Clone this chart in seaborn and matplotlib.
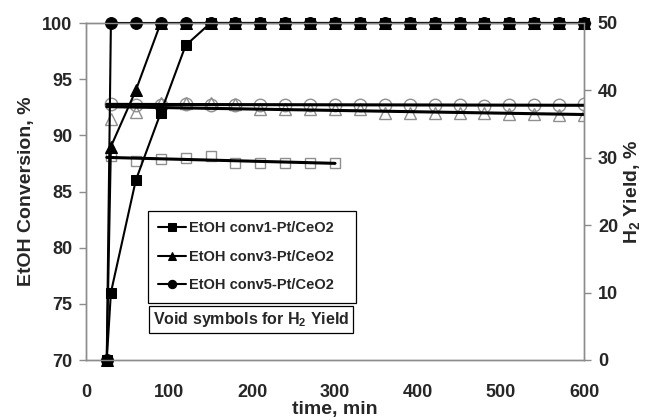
import numpy as np
import pandas as pd
import matplotlib
matplotlib.use("Agg")
import matplotlib.pyplot as plt
from matplotlib.ticker import MultipleLocator
import seaborn as sns

# Ethanol conversion (left axis, %) versus time on stream (min)
time_conv = [25, 30, 60, 90, 120, 150, 180, 210, 240, 270, 300,
             330, 360, 390, 420, 450, 480, 510, 540, 570, 600]
conv1 = [70, 76, 86, 92, 98, 100, 100, 100, 100, 100, 100,
         100, 100, 100, 100, 100, 100, 100, 100, 100, 100]
conv3 = [70, 89, 94, 100, 100, 100, 100, 100, 100, 100, 100,
         100, 100, 100, 100, 100, 100, 100, 100, 100, 100]
conv5 = [70, 100, 100, 100, 100, 100, 100, 100, 100, 100, 100,
         100, 100, 100, 100, 100, 100, 100, 100, 100, 100]

# H2 yield (right axis, %)
time_h2 = [30, 60, 90, 120, 150, 180, 210, 240, 270, 300,
           330, 360, 390, 420, 450, 480, 510, 540, 570, 600]
h2_yield1 = [30.2, 29.5, 29.8, 30.0, 30.2, 29.3, 29.3, 29.3, 29.3, 29.2]
h2_yield3 = [35.8, 36.8, 38.1, 38.1, 38.1, 38.0, 37.3, 37.2, 37.3, 37.3,
             37.3, 36.6, 36.6, 36.6, 36.6, 36.6, 36.5, 36.5, 36.4, 36.3]
h2_yield5 = [38.0, 37.9, 37.9, 38.0, 37.9, 37.9, 37.8, 37.9, 37.9, 37.8,
             37.9, 37.8, 37.8, 37.8, 37.8, 37.7, 37.8, 37.8, 37.8, 38.0]

conv_labels = ["EtOH conv1-Pt/CeO2", "EtOH conv3-Pt/CeO2", "EtOH conv5-Pt/CeO2"]
note_text = "Void symbols for H$_2$ Yield"

sns.set_style("white")
plt.rcParams["font.family"] = ["Liberation Sans", "DejaVu Sans"]
plt.rcParams["font.weight"] = "bold"
plt.rcParams["mathtext.fontset"] = "custom"
plt.rcParams["mathtext.bf"] = "Liberation Sans:bold"
plt.rcParams["mathtext.rm"] = "Liberation Sans:bold"
plt.rcParams["mathtext.default"] = "bf"

fig = plt.figure(figsize=(6.45, 4.2), dpi=100)
ax = fig.add_axes([86 / 645, 60 / 420, 498 / 645, 337 / 420])
ax2 = ax.twinx()

spine_col = "#8c8c8c"
open_col = "#8f8f8f"

# right axis: open symbols for H2 yield with linear trend lines
for times, vals, mk, ms in [(time_h2[:len(h2_yield1)], h2_yield1, "s", 7.5),
                            (time_h2, h2_yield3, "^", 9),
                            (time_h2, h2_yield5, "o", 9)]:
    df = pd.DataFrame({"t": times, "y": vals})
    sns.lineplot(data=df, x="t", y="y", ax=ax2, estimator=None, sort=False,
                 linestyle="none", marker=mk, markersize=ms,
                 markerfacecolor="none", markeredgecolor=open_col,
                 markeredgewidth=1.0, legend=False)
    slope, icpt = np.polyfit(times, vals, 1)
    tt = np.array([25.0, times[-1]])
    ax2.plot(tt, icpt + slope * tt, color="black", lw=2.2, zorder=3)

# left axis: filled symbols for conversion
for vals, mk, ms, lab in [(conv1, "s", 7.5, conv_labels[0]),
                          (conv3, "^", 8, conv_labels[1]),
                          (conv5, "o", 8.5, conv_labels[2])]:
    df = pd.DataFrame({"t": time_conv, "c": vals})
    sns.lineplot(data=df, x="t", y="c", ax=ax, estimator=None, sort=False,
                 color="black", lw=1.5, marker=mk, markersize=ms,
                 markerfacecolor="black", markeredgecolor="black",
                 label=lab, clip_on=False)

ax.set_zorder(ax2.get_zorder() + 1)
ax.patch.set_visible(False)

ax.set_xlim(0, 600)
ax.set_ylim(70, 100)
ax2.set_ylim(0, 50)
ax.xaxis.set_major_locator(MultipleLocator(100))
ax.xaxis.set_minor_locator(MultipleLocator(20))
ax.yaxis.set_major_locator(MultipleLocator(5))
ax2.yaxis.set_major_locator(MultipleLocator(10))

for a in (ax, ax2):
    for s in a.spines.values():
        s.set_color(spine_col)
        s.set_linewidth(1.0)

ax.tick_params(axis="x", which="both", direction="in", length=5, width=1,
               color=spine_col, pad=17, labelsize=13)
ax.tick_params(axis="y", direction="out", length=5, width=1,
               color=spine_col, pad=5, labelsize=13, left=True)
ax2.tick_params(axis="y", direction="out", length=5, width=1,
                color=spine_col, pad=5, labelsize=13, right=True)
for lab in ax.get_xticklabels() + ax.get_yticklabels() + ax2.get_yticklabels():
    lab.set_fontweight("bold")

ax.set_xlabel("time, min", fontsize=14, fontweight="bold", labelpad=0)
ax.set_ylabel("EtOH Conversion, %", fontsize=14, fontweight="bold", labelpad=5)
ax2.set_ylabel("H$_2$ Yield, %", fontsize=14, fontweight="bold", labelpad=3)

leg = ax.legend(loc="upper left", bbox_to_anchor=(0.1245, 0.163, 0.4177, 0.279),
                mode="expand", borderaxespad=0, frameon=True, fancybox=False,
                edgecolor="black", framealpha=1, handlelength=1.9,
                handletextpad=0.2, labelspacing=1.0, borderpad=0.7,
                prop={"family": "Liberation Sans", "weight": "bold",
                      "size": 10.5})
leg.get_frame().set_linewidth(0.9)
for h in leg.legend_handles:
    h.set_markersize(6)

ax.text(0.135, 0.12, note_text, transform=ax.transAxes, ha="left",
        va="center", fontsize=11.5, fontweight="bold",
        bbox=dict(boxstyle="square,pad=0.25", facecolor="white",
                  edgecolor="black", linewidth=0.9), zorder=10)

fig.savefig("out.png", dpi=100)
